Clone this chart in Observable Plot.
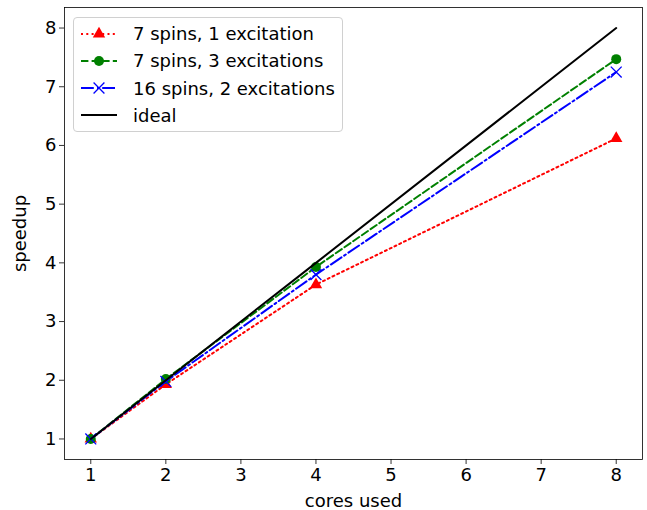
<!DOCTYPE html>
<html>
<head>
<meta charset="utf-8">
<script src="https://cdn.jsdelivr.net/npm/d3@7"></script>
<script src="https://cdn.jsdelivr.net/npm/@observablehq/plot@0.6"></script>
<style>
  html, body { margin: 0; padding: 0; background: #fff; }
  #wrap { position: relative; width: 647px; height: 510px; font-family: "DejaVu Sans", sans-serif; }
  #legend { position: absolute; left: 73px; top: 17px; width: 270px; height: 115px;
    border: 1px solid #d0d0d0; border-radius: 4px; background: rgba(255,255,255,0.8); box-sizing: border-box; }
  .row { position: absolute; left: 0; height: 27px; display: flex; align-items: center; }
  .row svg { margin-left: 6px; }
  .row span { margin-left: 15px; font-size: 18px; color: #000; white-space: nowrap; }
</style>
</head>
<body>
<div id="wrap"></div>
<script>
const cores = [1, 2, 4, 8];
const spins7exc1 = [1, 1.93, 3.63, 6.12];
const spins7exc3 = [1, 2.02, 3.93, 7.47];
const spins16exc2 = [1, 1.98, 3.80, 7.25];
const ideal = [1, 2, 4, 8];
const xTicks = [1, 2, 3, 4, 5, 6, 7, 8];
const yTicks = [1, 2, 3, 4, 5, 6, 7, 8];
const seriesNames = ["7 spins, 1 excitation", "7 spins, 3 excitations", "16 spins, 2 excitations", "ideal"];

const toRows = (vals) => cores.map((c, i) => ({x: c, y: vals[i]}));
const red = toRows(spins7exc1), green = toRows(spins7exc3), blue = toRows(spins16exc2), black = toRows(ideal);

const LW = 2;
const dotted = "2,3.3", dashed = "7.4,3.2", dashdot = "12.8,3.2,2,3.2";
const font = "DejaVu Sans";
const plot = Plot.plot({
  width: 647,
  height: 510,
  marginLeft: 64,
  marginRight: 5,
  marginTop: 7,
  marginBottom: 51,
  style: {fontFamily: font, fontSize: "18px", color: "#000", background: "#fff"},
  x: {domain: [0.65, 8.35]},
  y: {domain: [0.65, 8.35]},
  marks: [
    Plot.axisX({ticks: xTicks, tickSize: 5, tickPadding: 4, fontSize: 18, label: null, stroke: "#000", strokeWidth: 0.8}),
    Plot.axisY({ticks: yTicks, tickSize: 5, tickPadding: 3, fontSize: 18, label: null, stroke: "#000", strokeWidth: 0.8}),
    Plot.line(red, {x: "x", y: "y", stroke: "red", strokeWidth: LW, strokeDasharray: dotted}),
    Plot.dot(red, {x: "x", y: "y", symbol: "triangle", fill: "red", r: 4.6}),
    Plot.line(green, {x: "x", y: "y", stroke: "green", strokeWidth: LW, strokeDasharray: dashed}),
    Plot.dot(green, {x: "x", y: "y", symbol: "circle", fill: "green", r: 5}),
    Plot.line(blue, {x: "x", y: "y", stroke: "blue", strokeWidth: LW, strokeDasharray: dashdot}),
    Plot.dot(blue, {x: "x", y: "y", symbol: "times", stroke: "blue", strokeWidth: 1.3, r: 5}),
    Plot.line(black, {x: "x", y: "y", stroke: "black", strokeWidth: LW}),
    Plot.frame({stroke: "#000", strokeWidth: 0.8}),
    Plot.text(["cores used"], {frameAnchor: "bottom", dy: 42, fontSize: 18, lineAnchor: "middle", fill: "#000"}),
    Plot.text(["speedup"], {frameAnchor: "left", dx: -44, rotate: -90, fontSize: 18, lineAnchor: "middle", textAnchor: "middle", fill: "#000"})
  ]
});
const wrap = document.getElementById("wrap");
wrap.appendChild(plot);

// Legend
const legend = document.createElement("div");
legend.id = "legend";
const styles = [
  {color: "red", dash: dotted, marker: "triangle", r: 4.6},
  {color: "green", dash: dashed, marker: "circle", r: 5},
  {color: "blue", dash: dashdot, marker: "times", r: 5},
  {color: "black", dash: null, marker: null}
];
seriesNames.forEach((name, i) => {
  const s = styles[i];
  const row = document.createElement("div");
  row.className = "row";
  row.style.top = (2 + i * 27.3) + "px";
  const svgNS = "http://www.w3.org/2000/svg";
  const svg = document.createElementNS(svgNS, "svg");
  svg.setAttribute("width", 38); svg.setAttribute("height", 20);
  const line = document.createElementNS(svgNS, "line");
  line.setAttribute("x1", 1); line.setAttribute("x2", 37);
  line.setAttribute("y1", 10); line.setAttribute("y2", 10);
  line.setAttribute("stroke", s.color); line.setAttribute("stroke-width", LW);
  if (s.dash) line.setAttribute("stroke-dasharray", s.dash);
  svg.appendChild(line);
  if (s.marker) {
    const sym = s.marker === "triangle" ? d3.symbolTriangle : s.marker === "circle" ? d3.symbolCircle : d3.symbolTimes;
    const p = document.createElementNS(svgNS, "path");
    p.setAttribute("d", d3.symbol(sym, s.r * s.r * Math.PI)());
    p.setAttribute("transform", "translate(19,10)");
    if (s.marker === "times") { p.setAttribute("fill", "none"); p.setAttribute("stroke", s.color); p.setAttribute("stroke-width", 1.3); }
    else p.setAttribute("fill", s.color);
    svg.appendChild(p);
  }
  row.appendChild(svg);
  const span = document.createElement("span");
  span.textContent = name;
  row.appendChild(span);
  legend.appendChild(row);
});
wrap.appendChild(legend);
</script>
</body>
</html>
